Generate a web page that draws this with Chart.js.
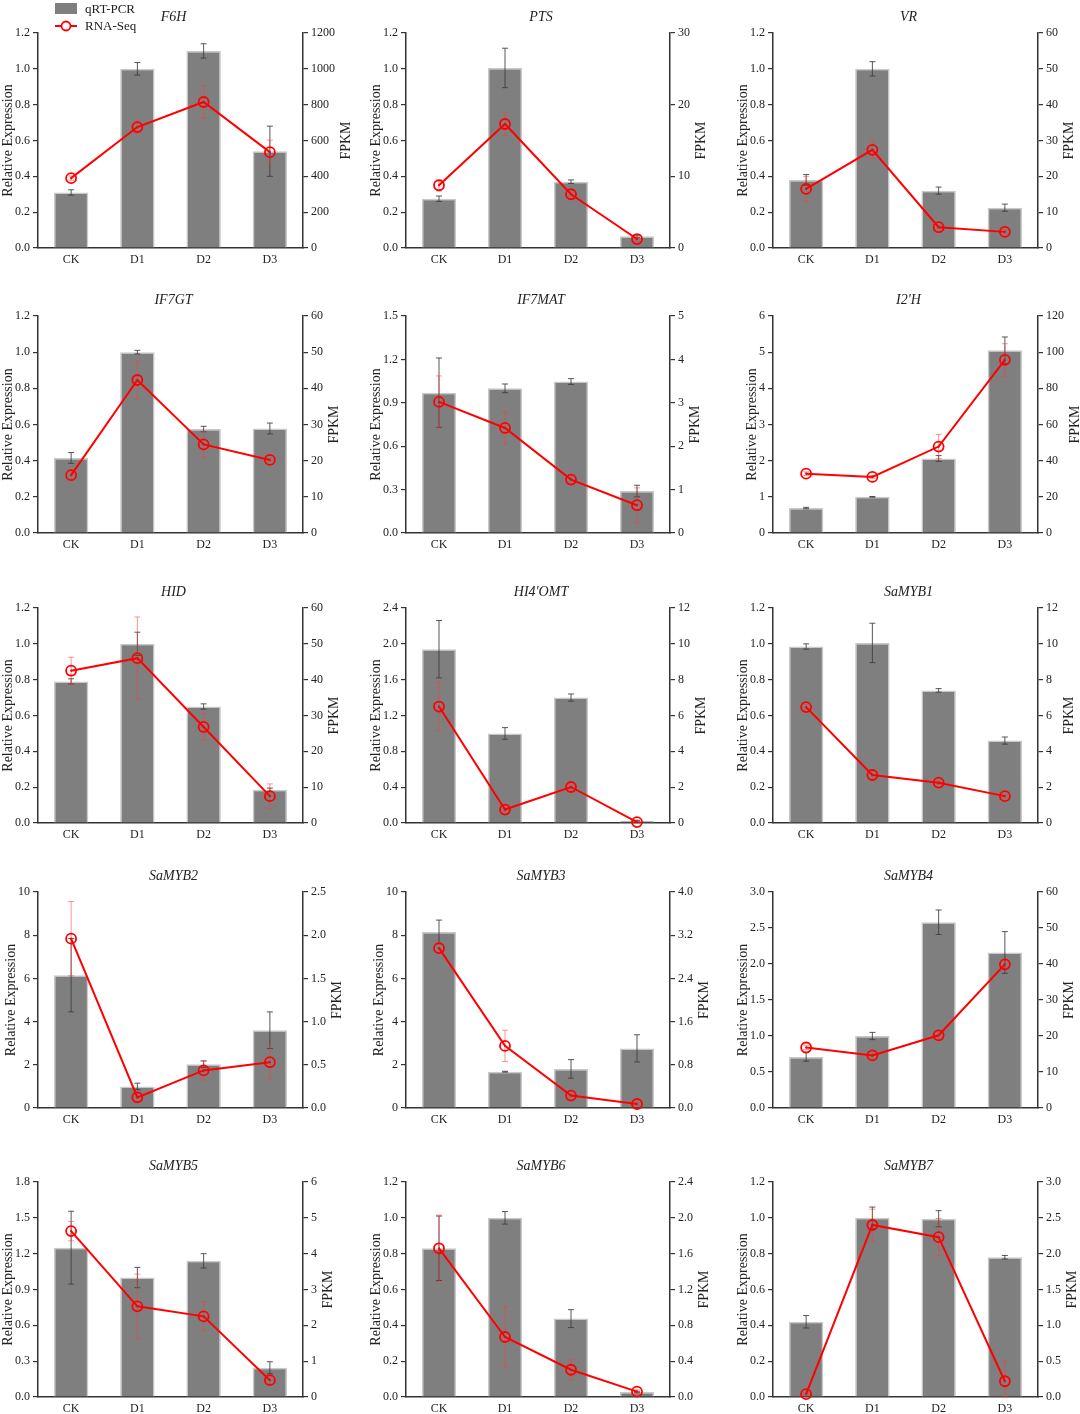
<!DOCTYPE html>
<html>
<head>
<meta charset="utf-8">
<script src="https://cdn.jsdelivr.net/npm/chart.js@4.4.0/dist/chart.umd.min.js"></script>
<style>
html, body { margin: 0; padding: 0; background: #fff; overflow: hidden; }
#wrap { position: relative; width: 1080px; height: 1414px; }
#wrap canvas { position: absolute; }
#legend { position: absolute; left: 55px; top: 0; z-index: 2;
  font-family: 'Liberation Serif', 'Times New Roman', serif; font-size: 13px; color: #222; }
#legend .row { height: 17px; line-height: 17px; display: flex; align-items: center; }
#legend .box { width: 22px; height: 11px; background: #7f7f7f; margin-right: 8px; }
#legend svg { margin-right: 8px; }
</style>
</head>
<body>
<div id="wrap">
  <div id="legend">
    <div class="row"><span class="box"></span>qRT-PCR</div>
    <div class="row"><svg width="22" height="12"><line x1="0" y1="6" x2="22" y2="6" stroke="#ff0000" stroke-width="2"/><circle cx="11" cy="6" r="4.5" fill="#fff" stroke="#ff0000" stroke-width="1.8"/></svg>RNA-Seq</div>
  </div>
</div>
<script>
// Datos de las 15 gráficas (orden por filas)
const genes = ['F6H', 'PTS', 'VR', 'IF7GT', 'IF7MAT', "I2'H", 'HID', "HI4'OMT", 'SaMYB1',
               'SaMYB2', 'SaMYB3', 'SaMYB4', 'SaMYB5', 'SaMYB6', 'SaMYB7'];
const stages = ['CK', 'D1', 'D2', 'D3'];

// qRT-PCR (barras, eje izquierdo)
const qpcr = [
    [0.31, 1.00, 1.10, 0.54],
    [0.275, 1.005, 0.37, 0.065],
    [0.38, 1.00, 0.32, 0.225],
    [0.415, 1.00, 0.575, 0.578],
    [0.97, 1.00, 1.047, 0.29],
    [0.69, 1.00, 2.06, 5.05],
    [0.79, 1.00, 0.65, 0.185],
    [1.94, 1.00, 1.40, 0.026],
    [0.985, 1.005, 0.74, 0.46],
    [6.15, 1.00, 2.03, 3.6],
    [8.15, 1.68, 1.81, 2.76],
    [0.71, 1.00, 2.58, 2.16],
    [1.25, 1.00, 1.14, 0.245],
    [0.83, 1.00, 0.4375, 0.028],
    [0.42, 1.00, 0.995, 0.78]
];
const qpcrErr = [
    [0.015, 0.035, 0.04, 0.14],
    [0.015, 0.11, 0.01, 0.006],
    [0.03, 0.04, 0.02, 0.02],
    [0.03, 0.01, 0.015, 0.03],
    [0.24, 0.03, 0.02, 0.04],
    [0.02, 0.01, 0.08, 0.37],
    [0.015, 0.065, 0.015, 0.01],
    [0.32, 0.065, 0.04, 0.005],
    [0.015, 0.11, 0.01, 0.02],
    [1.7, 0.15, 0.15, 0.85],
    [0.55, 0.02, 0.43, 0.63],
    [0.06, 0.05, 0.17, 0.29],
    [0.305, 0.085, 0.06, 0.05],
    [0.18, 0.035, 0.05, 0.004],
    [0.035, 0.06, 0.045, 0.01]
];

// RNA-Seq (línea, eje derecho FPKM)
const fpkm = [
    [390, 675, 815, 535],
    [8.75, 17.3, 7.5, 1.25],
    [16.5, 27.4, 5.8, 4.5],
    [16, 42.3, 24.5, 20.2],
    [3.02, 2.42, 1.23, 0.64],
    [32.8, 31, 47.8, 95.7],
    [42.5, 46, 26.8, 7.5],
    [6.5, 0.75, 2.01, 0.05],
    [6.47, 2.68, 2.25, 1.5],
    [1.96, 0.123, 0.435, 0.53],
    [2.96, 1.15, 0.23, 0.074],
    [16.8, 14.6, 20.2, 39.9],
    [4.63, 2.53, 2.25, 0.47],
    [1.66, 0.67, 0.304, 0.06],
    [0.04, 2.40, 2.23, 0.22]
];
const fpkmErr = [
    [12, 35, 90, 67],
    [0.8, 1.6, 0.3, 0.3],
    [3.5, 2.5, 0.5, 0.6],
    [1.5, 5.3, 3.5, 0.4],
    [0.6, 0.37, 0.1, 0.4],
    [1, 0.8, 6.7, 9],
    [3.75, 11.5, 3.75, 3.4],
    [1.35, 0.1, 0.1, 0.05],
    [0.15, 0.3, 0.1, 0.1],
    [0.43, 0.04, 0.11, 0.19],
    [0.1, 0.29, 0.03, 0.03],
    [0.6, 0.8, 0.8, 0.8],
    [0.27, 0.9, 0.4, 0.1],
    [0.37, 0.34, 0.11, 0.02],
    [0.02, 0.22, 0.26, 0.28]
];

// Rangos de los ejes
const leftMax   = [1.2, 1.2, 1.2, 1.2, 1.5, 6, 1.2, 2.4, 1.2, 10, 10, 3.0, 1.8, 1.2, 1.2];
const leftStep  = [0.2, 0.2, 0.2, 0.2, 0.3, 1, 0.2, 0.4, 0.2, 2, 2, 0.5, 0.3, 0.2, 0.2];
const rightMax  = [1200, 30, 60, 60, 5, 120, 60, 12, 12, 2.5, 4.0, 60, 6, 2.4, 3.0];
const rightStep = [200, 10, 10, 10, 1, 20, 10, 2, 2, 0.5, 0.8, 10, 1, 0.4, 0.5];

// Posición de los paneles (ejes en px)
const colStart = [0, 360, 720];
const colLeft = [38, 406, 773];
const colRight = [303, 670, 1038];
const rowTop = [33, 316, 608, 892, 1182];
const rowBottom = [248, 533, 823, 1108, 1397];

const FONT = "'Liberation Serif', 'Times New Roman', serif";
const AXIS = '#333';
const TEXT = '#222';
const RED = '#ff0000';

function decimals(step) {
    return Number.isInteger(step) ? 0 : 1;
}

function errorBar(ctx, x, yTop, yBot, cap) {
    ctx.beginPath();
    ctx.moveTo(x, yTop); ctx.lineTo(x, yBot);
    ctx.moveTo(x - cap, yTop); ctx.lineTo(x + cap, yTop);
    ctx.moveTo(x - cap, yBot); ctx.lineTo(x + cap, yBot);
    ctx.stroke();
}

function maxLabelWidth(ctx, scale) {
    ctx.font = '12px ' + FONT;
    return Math.max(...scale.ticks.map(t => ctx.measureText(t.label).width));
}

// Plugin: barras de error, punto central, títulos
const panelExtras = {
    id: 'panelExtras',
    afterDatasetDraw(chart, args) {
        if (args.meta.type !== 'bar') return;
        const i = chart.options.plugins.panelExtras.idx;
        const ctx = chart.ctx;
        const x = chart.scales.x, yL = chart.scales.y, yR = chart.scales.y1;
        ctx.save();
        ctx.lineWidth = 1;
        ctx.strokeStyle = 'rgba(60,60,60,0.85)';
        qpcr[i].forEach((v, j) => {
            const e = qpcrErr[i][j];
            errorBar(ctx, x.getPixelForValue(j), yL.getPixelForValue(v + e),
                     yL.getPixelForValue(Math.max(0, v - e)), 3);
        });
        ctx.strokeStyle = 'rgba(255,60,60,0.55)';
        fpkm[i].forEach((v, j) => {
            const e = fpkmErr[i][j];
            errorBar(ctx, x.getPixelForValue(j), yR.getPixelForValue(v + e),
                     yR.getPixelForValue(Math.max(0, v - e)), 3);
        });
        ctx.restore();
    },
    afterDatasetsDraw(chart) {
        const ctx = chart.ctx;
        const meta = chart.getDatasetMeta(0);
        ctx.save();
        ctx.fillStyle = RED;
        meta.data.forEach(pt => {
            ctx.beginPath();
            ctx.arc(pt.x, pt.y, 1.1, 0, Math.PI * 2);
            ctx.fill();
        });
        ctx.restore();
    },
    afterDraw(chart) {
        const i = chart.options.plugins.panelExtras.idx;
        const ctx = chart.ctx;
        const area = chart.chartArea;
        const yL = chart.scales.y, yR = chart.scales.y1;
        const wL = maxLabelWidth(ctx, yL);
        const wR = maxLabelWidth(ctx, yR);
        const midY = (area.top + area.bottom) / 2;
        ctx.save();
        ctx.fillStyle = TEXT;
        ctx.textAlign = 'center';
        ctx.textBaseline = 'middle';
        // título del gen
        ctx.font = 'italic 14px ' + FONT;
        ctx.fillText(genes[i], (area.left + area.right) / 2 + 3, area.top - 16);
        // títulos de ejes
        ctx.font = '14px ' + FONT;
        ctx.save();
        ctx.translate(area.left - 5 - 3 - wL - 7, midY);
        ctx.rotate(-Math.PI / 2);
        ctx.fillText('Relative Expression', 0, 0);
        ctx.restore();
        ctx.save();
        ctx.translate(area.right + 5 + 3 + wR + 11, midY);
        ctx.rotate(-Math.PI / 2);
        ctx.fillText('FPKM', 0, 0);
        ctx.restore();
        ctx.restore();
    }
};

function createPanel(i) {
    const r = Math.floor(i / 3), c = i % 3;
    const canvas = document.createElement('canvas');
    const top = rowTop[r] - 33;
    const height = rowBottom[r] + 22 - top;
    canvas.width = 360;
    canvas.height = height;
    canvas.style.left = colStart[c] + 'px';
    canvas.style.top = top + 'px';
    canvas.style.width = '360px';
    canvas.style.height = height + 'px';
    document.getElementById('wrap').appendChild(canvas);

    const leftW = colLeft[c] - colStart[c];
    const rightW = colStart[c] + 360 - colRight[c];
    const tickFont = { family: FONT, size: 12 };

    return new Chart(canvas.getContext('2d'), {
        type: 'bar',
        data: {
            labels: stages,
            datasets: [
                {
                    type: 'line',
                    label: 'RNA-Seq',
                    data: fpkm[i],
                    yAxisID: 'y1',
                    borderColor: RED,
                    borderWidth: 2,
                    pointRadius: 5,
                    pointBorderWidth: 1.8,
                    pointBorderColor: RED,
                    pointBackgroundColor: 'rgba(255,255,255,0)',
                    tension: 0,
                    clip: false,
                    order: 0
                },
                {
                    type: 'bar',
                    label: 'qRT-PCR',
                    data: qpcr[i],
                    yAxisID: 'y',
                    backgroundColor: '#7f7f7f',
                    borderColor: '#c8c8c8',
                    borderWidth: 1.5,
                    barPercentage: 0.52,
                    categoryPercentage: 1,
                    order: 1
                }
            ]
        },
        options: {
            responsive: false,
            animation: false,
            events: [],
            layout: { padding: { top: 33, left: 0, right: 0, bottom: 0 } },
            plugins: {
                legend: { display: false },
                tooltip: { enabled: false },
                title: { display: false },
                panelExtras: { idx: i }
            },
            scales: {
                x: {
                    grid: { display: false, drawTicks: false },
                    border: { display: true, color: AXIS, width: 1.5 },
                    ticks: { color: TEXT, font: tickFont, padding: 5 },
                    afterFit(s) { s.height = 22; }
                },
                y: {
                    position: 'left',
                    min: 0,
                    max: leftMax[i],
                    ticks: {
                        stepSize: leftStep[i],
                        color: TEXT,
                        font: tickFont,
                        padding: 3,
                        callback: v => Number(v).toFixed(decimals(leftStep[i]))
                    },
                    grid: { drawOnChartArea: false, drawTicks: true, tickLength: 5, color: AXIS, lineWidth: 1.2 },
                    border: { color: AXIS, width: 1.5 },
                    afterFit(s) { s.width = leftW; }
                },
                y1: {
                    position: 'right',
                    min: 0,
                    max: rightMax[i],
                    ticks: {
                        stepSize: rightStep[i],
                        color: TEXT,
                        font: tickFont,
                        padding: 3,
                        callback: v => Number(v).toFixed(decimals(rightStep[i]))
                    },
                    grid: { drawOnChartArea: false, drawTicks: true, tickLength: 5, color: AXIS, lineWidth: 1.2 },
                    border: { color: AXIS, width: 1.5 },
                    afterFit(s) { s.width = rightW; }
                }
            }
        },
        plugins: [panelExtras]
    });
}

genes.forEach((g, i) => createPanel(i));
</script>
</body>
</html>
